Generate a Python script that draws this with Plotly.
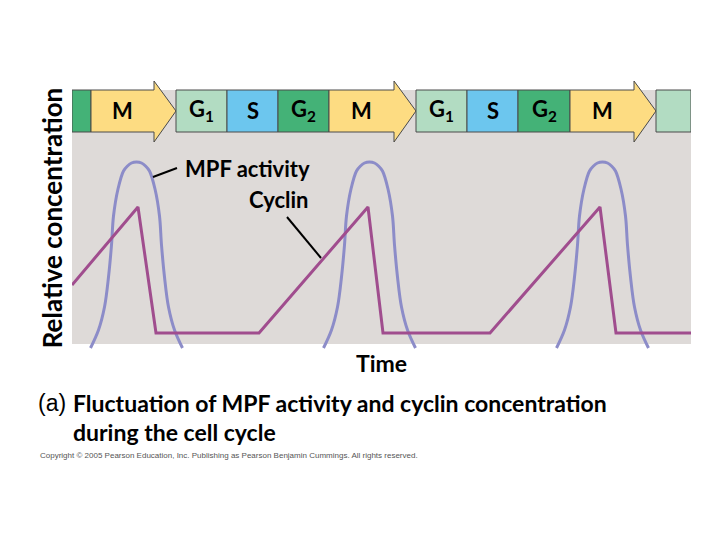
import plotly.graph_objects as go

# ---------------- data (x in time units, y in relative units) ----------------
# Cell-cycle phases shown in the top band
phase_names = ["G2", "M", "G1", "S", "G2", "M", "G1", "S", "G2", "M", "G1"]
phase_start = [0, 19, 104, 155, 206, 257, 344, 395, 446, 498, 584]
phase_end = [19, 104, 155, 206, 257, 344, 395, 446, 498, 584, 619]
phase_labeled = [False, True, True, True, True, True, True, True, True, True, False]

# Cyclin concentration (sawtooth)
cyclin_x = [0, 66, 84, 187, 296, 311, 418, 528, 544, 619]
cyclin_y = [59, 137, 11, 11, 137, 11, 11, 137, 11, 11]

# MPF activity (three bell-shaped peaks)
mpf_x1 = [18.5, 26.5, 32.5, 36.5, 39.5, 41.5, 46, 51.5, 55.5, 59.5, 64.5, 69.5, 73.5, 77.5, 83, 87.5, 89.5, 92.5, 96.5, 102.5, 110.5]
mpf_x2 = [251.5, 259.5, 265.5, 269.5, 272.5, 274.5, 279, 284.5, 288.5, 292.5, 297.5, 302.5, 306.5, 310.5, 316, 320.5, 322.5, 325.5, 329.5, 335.5, 343.5]
mpf_x3 = [484.5, 492.5, 498.5, 502.5, 505.5, 507.5, 512, 517.5, 521.5, 525.5, 530.5, 535.5, 539.5, 543.5, 549, 553.5, 555.5, 558.5, 562.5, 568.5, 576.5]
mpf_y = [-4, 14, 37, 67, 99, 128, 155, 173, 178, 181, 182, 181, 178, 173, 155, 128, 99, 67, 37, 14, -4]

# ---------------- styling ----------------
X_MAX = 619
BAND_LO, BAND_HI = 212, 254
HEAD_LO, HEAD_HI = 202, 263
HEAD_LEN = 22
BG_TOP = 254
phase_colors = {"M": "#FDDC82", "G1": "#B2DCC2", "S": "#6CC6EE", "G2": "#44B277"}
OUTLINE = "#4A4A4A"
MPF_COLOR = "#8C8CC8"
CYC_COLOR = "#A04D8E"
FONT = "Lato"
BOLD = dict(family=FONT, size=22, color="black", weight="bold")

fig = go.Figure()

mpf_all_x = mpf_x1 + [None] + mpf_x2 + [None] + mpf_x3
mpf_all_y = mpf_y + [None] + mpf_y + [None] + mpf_y
fig.add_trace(go.Scatter(x=mpf_all_x, y=mpf_all_y, mode="lines", name="MPF activity",
                         line=dict(color=MPF_COLOR, width=3, shape="spline", smoothing=1.0),
                         connectgaps=False, hoverinfo="skip"))
fig.add_trace(go.Scatter(x=cyclin_x, y=cyclin_y, mode="lines", name="Cyclin",
                         line=dict(color=CYC_COLOR, width=3), hoverinfo="skip"))

shapes = []
# gray background panel
shapes.append(dict(type="rect", xref="x", yref="y", x0=0, x1=X_MAX, y0=0, y1=BG_TOP,
                   fillcolor="#DEDAD8", line=dict(width=0), layer="below"))

annotations = []
for name, s, e, lab in zip(phase_names, phase_start, phase_end, phase_labeled):
    col = phase_colors[name]
    if name == "M":
        b = e - HEAD_LEN
        mid = (BAND_LO + BAND_HI) / 2
        path = (f"M {s},{BAND_LO} L {b},{BAND_LO} L {b},{HEAD_LO} L {e},{mid} "
                f"L {b},{HEAD_HI} L {b},{BAND_HI} L {s},{BAND_HI} Z")
        shapes.append(dict(type="path", xref="x", yref="y", path=path, fillcolor=col,
                           line=dict(color=OUTLINE, width=1), layer="above"))
        cx = (s + b) / 2
    else:
        shapes.append(dict(type="rect", xref="x", yref="y", x0=s, x1=e, y0=BAND_LO, y1=BAND_HI,
                           fillcolor=col, line=dict(color=OUTLINE, width=1), layer="above"))
        cx = (s + e) / 2
    if lab:
        txt = name if len(name) == 1 else f"{name[0]}<sub>{name[1]}</sub>"
        annotations.append(dict(x=cx, y=(BAND_LO + BAND_HI) / 2 + 1, xref="x", yref="y", text=txt,
                                showarrow=False, font=dict(BOLD, size=22)))

# leader lines for the curve labels
shapes.append(dict(type="line", xref="x", yref="y", x0=81, y0=167, x1=105, y1=176,
                   line=dict(color="black", width=2)))
shapes.append(dict(type="line", xref="x", yref="y", x0=215, y0=127, x1=249, y1=86,
                   line=dict(color="black", width=2)))

annotations.append(dict(x=175, y=176, xref="x", yref="y", text="MPF activity", showarrow=False,
                        font=BOLD))
annotations.append(dict(x=239, y=145, xref="x", yref="y", text="Cyclin", showarrow=False,
                        xanchor="right", font=BOLD))

# caption (positions given in page pixels, converted below)
annotations.append(dict(x=36, y=403, text="(a)", showarrow=False,
                        xanchor="left", yanchor="middle",
                        font=dict(family="Liberation Sans", size=23, color="black")))
annotations.append(dict(x=71, y=403, text="Fluctuation of MPF activity and cyclin concentration",
                        showarrow=False, xanchor="left", yanchor="middle", font=dict(BOLD, size=23)))
annotations.append(dict(x=71, y=432, text="during the cell cycle", showarrow=False,
                        xanchor="left", yanchor="middle", font=dict(BOLD, size=23)))
annotations.append(dict(x=38, y=455,
                        text="Copyright © 2005 Pearson Education, Inc. Publishing as Pearson Benjamin Cummings. All rights reserved.",
                        showarrow=False, xanchor="left", yanchor="middle",
                        font=dict(family="Liberation Sans", size=8, color="#555555")))

# the page body adds an 8px offset, so the figure is sized/margined to compensate
OFF = 8
W, H = 720 - OFF, 540 - OFF
ML, MR, MT, MB = 72 - OFF, 29, 81 - OFF, 185
for a in annotations:
    if a.get("xref") is None:
        a["xref"] = "paper"
        a["yref"] = "paper"
        a["x"] = (a["x"] - OFF - ML) / (W - ML - MR)
        a["y"] = (H - MB - (a["y"] - OFF)) / (H - MT - MB)

fig.update_layout(
    width=W, height=H, autosize=False,
    margin=dict(l=ML, r=MR, t=MT, b=MB),
    paper_bgcolor="white", plot_bgcolor="white",
    showlegend=False,
    shapes=shapes, annotations=annotations,
    xaxis=dict(range=[0, X_MAX], showgrid=False, zeroline=False, showticklabels=False,
               ticks="", showline=False, fixedrange=True, automargin=False,
               title=dict(text="Time", font=dict(BOLD, size=23), standoff=0)),
    yaxis=dict(range=[-11, 263], showgrid=False, zeroline=False, showticklabels=False,
               ticks="", showline=False, fixedrange=True, automargin=False,
               title=dict(text="Relative concentration", font=dict(BOLD, size=26), standoff=0)),
)

fig.write_html("out.html")
